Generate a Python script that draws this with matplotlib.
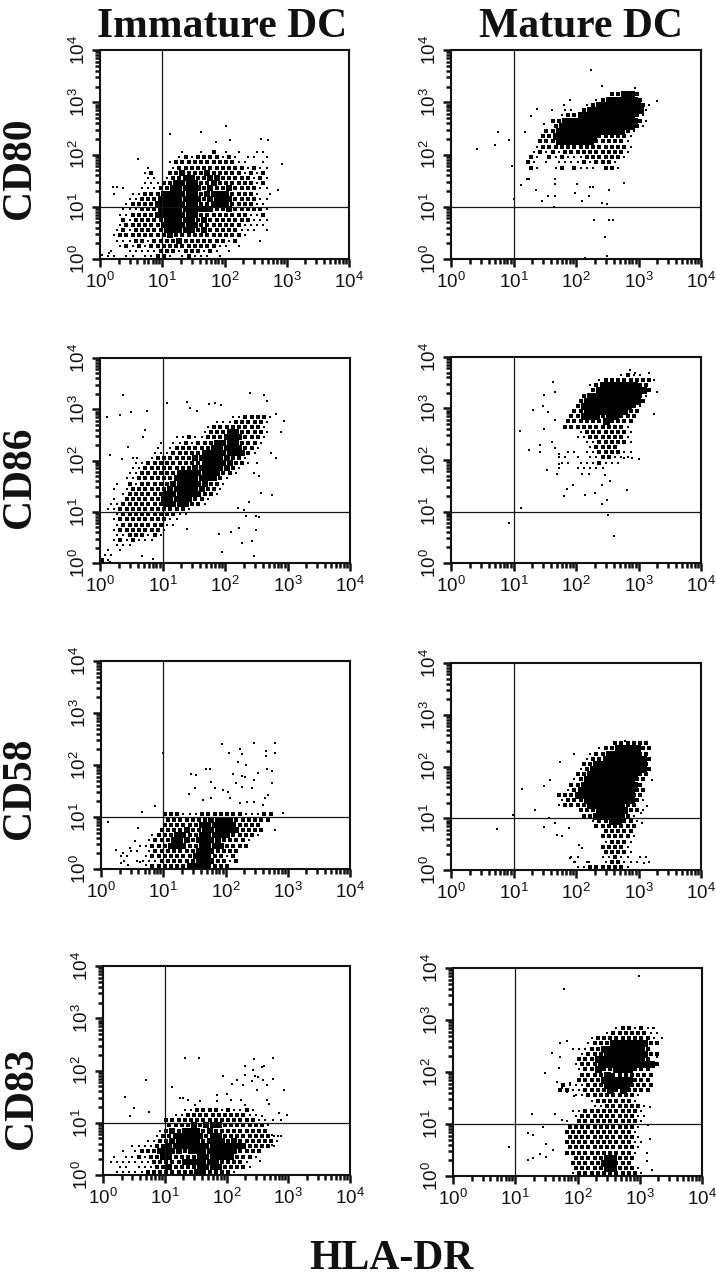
import numpy as np
import matplotlib
matplotlib.use("Agg")
import matplotlib.pyplot as plt
from matplotlib.ticker import LogLocator, FixedLocator, FixedFormatter, NullFormatter

plt.rcParams['font.family'] = ['Liberation Sans', 'DejaVu Sans']
plt.rcParams['mathtext.fontset'] = 'custom'
plt.rcParams['mathtext.rm'] = 'Liberation Sans'
plt.rcParams['mathtext.default'] = 'rm'

COLUMN_TITLES = ["Immature DC", "Mature DC"]
ROW_TITLES = ["CD80", "CD86", "CD58", "CD83"]
X_TITLE = "HLA-DR"
DECADES = [1, 10, 100, 1000, 10000]
DECADE_LABELS = ["10^{0}", "10^{1}", "10^{2}", "10^{3}", "10^{4}"]
GATE = 10

# Event density: (row, first column, digits). One row or
# column is a tenth of a decade; digits are density levels from 0 to 4.
CD80_IMM_ROWS = [
    (20, 13, "100102010100110"), (19, 12, "1212222121011010"), (18, 11, "12323322322110010"),
    (17, 7, "1000123333333322121100"), (16, 7, "120023433343333212120"), (15, 7, "110123443344333221210"),
    (14, 7, "111234444334333322120"), (13, 3, "1001112344444343343322110"), (12, 2, "10011223444444344443322101"),
    (11, 4, "112234444444344443322110"), (10, 4, "122334444444334443322110"), (9, 3, "1112334444444443343322210"),
    (8, 3, "1122334444444333333321120"), (7, 3, "2122333444443433333221110"), (6, 3, "1222333444444333332211110"),
    (5, 2, "12132233444443433332111010"), (4, 2, "12222223343333333222210"), (3, 2, "11122123334333333212000100"),
    (2, 3, "1212122333332322110100"), (1, 1, "100111112321232121010"), (0, 1, "110110112310121110100"),
]
CD80_IMM_DOTS = [(1.12, 2.39), (1.63, 2.44), (2.03, 2.55), (2.09, 2.28), (1.87, 2.23), (2.59, 2.29), (2.7, 2.28),
                 (2.93, 1.81), (2.86, 1.33), (0.61, 1.91), (0.21, 1.37), (0.27, 1.37), (0.03, 0.08), (0.14, 0.11)]

CD80_MAT_ROWS = [
    (31, 25, "23443"), (30, 23, "13444443"), (29, 21, "12444444431"), (28, 18, "11024444444441"),
    (27, 17, "12344444444431"), (26, 16, "2344444444444431"), (25, 16, "344444444444431"), (24, 15, "234444444444431"),
    (23, 14, "234444444333321"), (22, 14, "233444444233221"), (21, 13, "1232323333232321"), (20, 13, "1212132222323231"),
    (19, 12, "2102121112233231"), (18, 12, "210101111213321"), (17, 12, "210012021110231"),
]
CD80_MAT_DOTS = [(2.24, 3.61), (2.42, 3.32), (2.95, 3.28), (3.3, 3.02), (0.75, 2.44), (0.93, 2.28), (0.7, 2.18),
                 (0.42, 2.1), (0.98, 1.78), (1.01, 1.14), (2.28, 0.74), (2.52, 0.74), (2.59, 0.74), (2.46, 0.42),
                 (2.5, 0.05), (2.15, 0.02), (1.64, 1.0), (1.46, 1.11), (1.55, 1.2), (1.66, 1.2), (1.36, 1.33),
                 (1.22, 1.53), (1.25, 1.53), (1.12, 1.41), (2.76, 1.45), (2.23, 1.37), (2.27, 1.37), (2.52, 1.32),
                 (1.98, 1.27), (2.1, 1.11), (2.42, 1.08), (2.5, 1.06), (2.2, 1.2), (1.66, 1.43), (1.67, 1.53),
                 (2.02, 1.43), (1.38, 2.88), (1.28, 2.73), (1.62, 2.86), (1.8, 2.95), (1.91, 3.05), (1.48, 2.58),
                 (1.19, 2.44)]

CD86_IMM_ROWS = [
    (28, 21, "1122321"), (27, 18, "111223321"), (26, 17, "1223333321"), (25, 16, "12334433321"),
    (24, 12, "112112334443321"), (23, 9, "10112123344443321"), (22, 9, "10122223344444321"), (21, 8, "11122223444444431"),
    (20, 5, "1001223233444444321"), (19, 5, "1122223333344444321"), (18, 5, "112223333344444421"), (17, 4, "112233334444444321"),
    (16, 4, "11223333444444421"), (15, 2, "102122333444444321"), (14, 2, "101222333444444321"), (13, 3, "1223333444444321"),
    (12, 2, "1022333344444321"), (11, 1, "1122233334444321"), (10, 1, "11223333333321"), (9, 2, "122333333211"),
    (8, 2, "12333333211"), (7, 2, "1233333211"), (6, 2, "122233221"), (5, 2, "11232121"), (4, 2, "1212111"),
    (3, 2, "111"), (2, 1, "101"), (1, 0, "11"), (0, 0, "21"),
]
CD86_IMM_DOTS = [(0.37, 3.28), (0.49, 2.95), (0.75, 2.97), (0.11, 2.84), (0.32, 2.89), (0.72, 2.6), (0.68, 2.45),
                 (0.45, 2.26), (0.16, 2.11), (0.35, 2.03), (0.59, 2.05), (1.07, 3.12), (1.39, 3.15), (1.44, 3.02),
                 (1.55, 2.97), (1.74, 3.1), (1.84, 3.13), (1.93, 3.08), (2.4, 3.32), (2.62, 3.28), (2.67, 3.17),
                 (2.95, 2.78), (2.9, 2.55), (2.81, 2.91), (2.73, 2.14), (2.81, 2.05), (2.51, 1.95), (2.54, 1.69),
                 (2.57, 1.36), (2.75, 1.33), (2.46, 1.75), (2.38, 1.2), (2.2, 1.07), (2.3, 1.04), (2.33, 0.91),
                 (2.49, 0.91), (2.54, 0.9), (2.22, 0.68), (2.09, 0.6), (1.9, 0.57), (2.27, 0.39), (2.43, 0.42),
                 (2.47, 0.13), (1.95, 0.21), (2.49, 0.64), (1.39, 0.66), (0.16, 0.01), (0.67, 0.13), (0.84, 0.08)]

CD86_MAT_ROWS = [
    (36, 27, "1211"), (35, 23, "123333332"), (34, 22, "1344444432"), (33, 22, "2444444443"),
    (32, 21, "24444444431"), (31, 20, "34444444442"), (30, 20, "34444444431"), (29, 19, "23444444432"),
    (28, 19, "33444344332"), (27, 18, "23333343332"), (26, 18, "33332233321"), (25, 20, "122333321"),
    (24, 20, "112333221"), (23, 21, "11233321"), (22, 22, "12332"), (21, 18, "11011223211"),
    (20, 17, "110101122111"), (19, 17, "1101112111"), (18, 17, "10011111"),
]
CD86_MAT_DOTS = [(1.1, 2.56), (1.24, 2.19), (1.31, 2.98), (1.43, 2.3), (1.43, 2.16), (1.49, 2.61), (1.55, 2.94),
                 (1.47, 3.05), (1.48, 3.27), (1.63, 3.51), (1.67, 3.32), (1.67, 2.77), (1.62, 2.35), (1.67, 2.24),
                 (1.72, 2.12), (1.72, 1.93), (1.54, 1.8), (1.7, 1.73), (1.86, 1.44), (1.95, 1.51), (1.81, 1.3),
                 (2.15, 1.33), (2.31, 1.36), (2.42, 1.14), (2.5, 1.22), (2.82, 1.42), (1.12, 1.07), (2.51, 0.93),
                 (0.93, 0.78), (2.6, 0.52), (3.16, 3.68), (3.25, 3.56), (3.29, 3.32), (3.24, 2.9), (2.95, 3.68),
                 (2.86, 3.74), (3.0, 2.01), (2.9, 2.03), (2.76, 2.03), (2.1, 1.73), (2.2, 1.73), (2.47, 1.7),
                 (2.42, 1.51), (2.55, 1.6)]

CD58_IMM_ROWS = [
    (10, 10, "222111222232211122"), (9, 10, "32333334444332223"), (8, 10, "3333334444443323"),
    (7, 9, "23334334444443332"), (6, 8, "123344334444433221"), (5, 7, "12334443444433321"),
    (4, 6, "112334443344443322"), (3, 4, "110123333334443322"), (2, 3, "1100123333334443212"),
    (1, 3, "1011113332334443312"), (0, 8, "2223334444322"),
]
CD58_IMM_DOTS = [(1.95, 2.4), (2.8, 2.42), (2.45, 2.43), (2.05, 2.24), (2.23, 2.3), (2.26, 2.22), (2.65, 2.27),
                 (2.8, 2.24), (1.0, 2.24), (2.2, 2.06), (2.33, 2.0), (2.65, 2.17), (2.53, 1.84), (2.66, 1.92),
                 (2.74, 1.88), (1.45, 1.83), (1.53, 1.81), (1.69, 1.92), (1.75, 1.92), (2.26, 1.78), (2.31, 1.76),
                 (2.46, 1.72), (2.12, 1.83), (1.77, 1.67), (2.17, 1.66), (2.74, 1.65), (2.26, 1.58), (1.51, 1.56),
                 (1.83, 1.55), (1.96, 1.52), (2.04, 1.49), (2.42, 1.55), (2.69, 1.42), (2.63, 1.37), (1.41, 1.44),
                 (1.64, 1.33), (1.77, 1.36), (2.07, 1.36), (2.23, 1.26), (2.34, 1.29), (2.45, 1.29), (2.61, 1.23),
                 (0.86, 1.21), (0.66, 1.1), (2.93, 1.07), (2.8, 0.75), (0.6, 0.78), (0.11, 0.91), (0.24, 0.37),
                 (0.36, 0.3), (0.54, 0.53), (0.46, 0.4), (0.32, 0.11), (0.43, 0.08), (0.62, 0.14), (0.73, 0.08)]

CD58_MAT_ROWS = [
    (24, 26, "233332"), (23, 23, "123444432"), (22, 22, "1234444432"), (21, 21, "12344444443"),
    (20, 21, "23444444443"), (19, 20, "134444444443"), (18, 20, "234444444432"), (17, 19, "134444444432"),
    (16, 19, "234444444443"), (15, 18, "1344444444432"), (14, 17, "23344444444432"), (13, 17, "13334444444431"),
    (12, 17, "1233344444432"), (11, 20, "23344444331"), (10, 21, "334444431"), (9, 22, "12344331"),
    (8, 23, "3333332"), (7, 24, "23332"), (6, 24, "222321"), (5, 24, "12221"), (4, 24, "23221"),
    (3, 24, "22321"), (2, 19, "1100011211011"), (1, 19, "1010012211101"), (0, 20, "112223321"),
]
CD58_MAT_DOTS = [(2.79, 2.5), (1.96, 2.25), (1.75, 2.08), (1.14, 1.56), (1.34, 1.15), (1.49, 1.63), (1.59, 1.74),
                 (0.74, 0.79), (0.99, 1.06), (1.56, 1.0), (1.49, 0.84), (1.67, 0.9), (1.7, 0.68), (1.89, 0.81),
                 (1.78, 0.65), (2.05, 0.48), (2.1, 0.42), (1.91, 0.23), (1.99, 0.16), (2.21, 0.16), (3.21, 1.74),
                 (3.14, 1.23), (3.04, 1.1), (3.06, 0.9), (3.09, 0.13)]

CD83_IMM_ROWS = [
    (12, 13, "112222121121"), (11, 11, "11232233222211"), (10, 10, "22333333333222211"), (9, 10, "33334344433332221"),
    (8, 9, "134344434333333222"), (7, 8, "123444443443333332211"), (6, 7, "1123444443444343333221"),
    (5, 4, "111123444444444444433321"), (4, 3, "10122344443444444443332"), (3, 1, "101121234433334444443331"),
    (2, 1, "11111113333344444433321"), (1, 2, "1101113343333444433321"), (0, 2, "11111222333334433321"),
]
CD83_IMM_DOTS = [(1.32, 2.23), (1.55, 2.24), (2.45, 2.22), (2.75, 2.24), (2.3, 2.09), (2.61, 2.09), (2.43, 2.01),
                 (2.57, 2.06), (1.94, 1.9), (2.3, 1.92), (2.46, 1.89), (2.51, 1.87), (2.59, 1.82), (2.76, 1.83),
                 (2.17, 1.82), (2.09, 1.74), (2.27, 1.73), (2.49, 1.63), (2.41, 1.79), (2.65, 1.73), (2.93, 1.62),
                 (2.69, 1.36), (2.65, 1.44), (0.69, 1.82), (0.35, 1.5), (0.5, 1.29), (0.44, 1.13), (0.74, 1.2),
                 (1.12, 1.68), (2.98, 1.15), (2.85, 1.18), (2.57, 1.12), (2.76, 1.06), (2.89, 1.06), (1.24, 1.47),
                 (1.3, 1.47), (1.38, 1.44), (1.84, 1.54), (2.0, 1.55), (2.08, 1.44), (2.24, 1.44), (2.3, 1.34),
                 (1.84, 1.41), (1.57, 1.41), (1.49, 1.34), (2.73, 0.77), (2.84, 0.74), (2.73, 0.58), (2.54, 0.26)]

CD83_MAT_ROWS = [
    (28, 26, "1221211"), (27, 24, "122332211"), (26, 22, "12333333321"), (25, 21, "123344444432"),
    (24, 19, "1112344444443"), (23, 20, "1223444444432"), (22, 20, "233444444443"), (21, 19, "12334444444443"),
    (20, 20, "123433444333"), (19, 20, "233343333332"), (18, 20, "233344444332"), (17, 17, "211133344443332"),
    (16, 17, "221123334343332"), (15, 19, "11233333321"), (14, 22, "12333321"), (13, 22, "112333221"),
    (12, 19, "112233233221"), (11, 19, "122322233211"), (10, 18, "1033222322321"), (9, 18, "233232333321"),
    (8, 18, "332323332321"), (7, 18, "232333323221"), (6, 18, "3332333332211"), (5, 18, "233323333321"),
    (4, 18, "233233333321"), (3, 19, "3333344332"), (2, 19, "3233344332"), (1, 19, "22333443321"), (0, 19, "123233333321"),
]
CD83_MAT_DOTS = [(2.99, 3.85), (1.79, 3.6), (3.22, 2.84), (3.35, 2.65), (1.59, 2.36), (1.48, 1.99), (1.7, 2.07),
                 (1.72, 2.29), (1.83, 2.6), (1.72, 2.55), (3.27, 2.29), (1.27, 1.19), (1.64, 1.2), (1.75, 1.08),
                 (1.45, 0.94), (1.28, 0.78), (1.21, 0.82), (0.9, 0.56), (1.4, 0.42), (1.2, 0.31), (1.29, 0.34),
                 (1.5, 0.62), (1.5, 0.37), (1.61, 0.5), (3.17, 1.33), (3.14, 0.98), (3.17, 0.72), (3.11, 0.44),
                 (3.11, 0.28), (3.19, 0.12), (1.75, 1.69), (1.83, 1.62), (1.67, 1.81), (1.88, 1.78), (1.94, 1.53)]

W, H = 716, 1280
fig = plt.figure(figsize=(W / 100, H / 100), dpi=100, facecolor="white")


def px_size(w):
    return (w * 0.72) ** 2


# The immature clouds are speckled in the reference, the mature ones solid.
SPECKLED = {1: 2.0, 2: 3.2, 3: 4.3, 4: 5.5}
SOLID = {1: 2.0, 2: 3.4, 3: 4.8, 4: 7.0}
PANELS = [
    ((100, 349, 50, 259), CD80_IMM_ROWS, CD80_IMM_DOTS, SPECKLED), ((451, 701, 50, 259), CD80_MAT_ROWS, CD80_MAT_DOTS, SOLID),
    ((100, 350, 358, 563), CD86_IMM_ROWS, CD86_IMM_DOTS, SPECKLED), ((451, 701, 357, 563), CD86_MAT_ROWS, CD86_MAT_DOTS, SOLID),
    ((101, 350, 661, 869), CD58_IMM_ROWS, CD58_IMM_DOTS, SPECKLED), ((451, 701, 663, 870), CD58_MAT_ROWS, CD58_MAT_DOTS, SOLID),
    ((103, 350, 966, 1175), CD83_IMM_ROWS, CD83_IMM_DOTS, SPECKLED), ((453, 702, 968, 1176), CD83_MAT_ROWS, CD83_MAT_DOTS, SOLID),
]

for (x0, x1, y0, y1), rows, dots, sizes in PANELS:
    ax = fig.add_axes([x0 / W, 1 - y1 / H, (x1 - x0) / W, (y1 - y0) / H])
    ax.set_xscale("log")
    ax.set_yscale("log")
    ax.set_xlim(DECADES[0], DECADES[-1])
    ax.set_ylim(DECADES[0], DECADES[-1])
    for level, width in sizes.items():
        xs, ys = [], []
        for r, c0, digits in rows:
            stagger = 0.5 * (r % 2)  # alternate rows sit half a bin over
            for k, d in enumerate(digits):
                if int(d) == level:
                    xs.append(10 ** ((c0 + k + stagger + 0.25) / 10))
                    ys.append(10 ** ((r + 0.5) / 10))
        ax.scatter(xs, ys, s=px_size(width), marker="s", color="black", linewidths=0, zorder=2)
    dd = np.array(dots)
    ax.scatter(10 ** dd[:, 0], 10 ** dd[:, 1], s=px_size(2.2), marker="s", color="black", linewidths=0, zorder=2)
    ax.axhline(GATE, color="#151515", lw=0.9, zorder=3)
    ax.axvline(GATE, color="#151515", lw=0.9, zorder=3)
    for side in ax.spines.values():
        side.set_linewidth(1.5)
        side.set_color("#111111")
    labels = [f"$\\mathdefault{{{t}}}$" for t in DECADE_LABELS]
    for axis in (ax.xaxis, ax.yaxis):
        axis.set_major_locator(FixedLocator(DECADES))
        axis.set_major_formatter(FixedFormatter(labels))
        axis.set_minor_locator(LogLocator(base=10, subs=np.arange(2, 10), numticks=20))
        axis.set_minor_formatter(NullFormatter())
    ax.tick_params(axis="both", which="major", length=6, width=1.8, labelsize=13.5, color="#111111", labelcolor="#111111")
    ax.tick_params(axis="both", which="minor", length=3.5, width=1.8, color="#111111")
    ax.tick_params(axis="x", which="major", pad=3)
    ax.tick_params(axis="y", which="major", pad=2)
    for lab in ax.get_yticklabels():
        lab.set_rotation(90)
        lab.set_va("center")

serif = dict(family="Liberation Serif", weight="bold", color="#111111", fontsize=30, ha="center", va="center")
fig.text(222 / W, 1 - 27 / H, COLUMN_TITLES[0], **serif)
fig.text(581 / W, 1 - 27 / H, COLUMN_TITLES[1], **serif)
for name, ypx, xpx in zip(ROW_TITLES, [168, 477, 788, 1098], [20, 20, 20, 22]):
    fig.text(xpx / W, 1 - ypx / H, name, rotation=90, **serif)
fig.text(391 / W, 1 - 1259 / H, X_TITLE, **serif)

fig.savefig("out.png", dpi=100, facecolor="white")
